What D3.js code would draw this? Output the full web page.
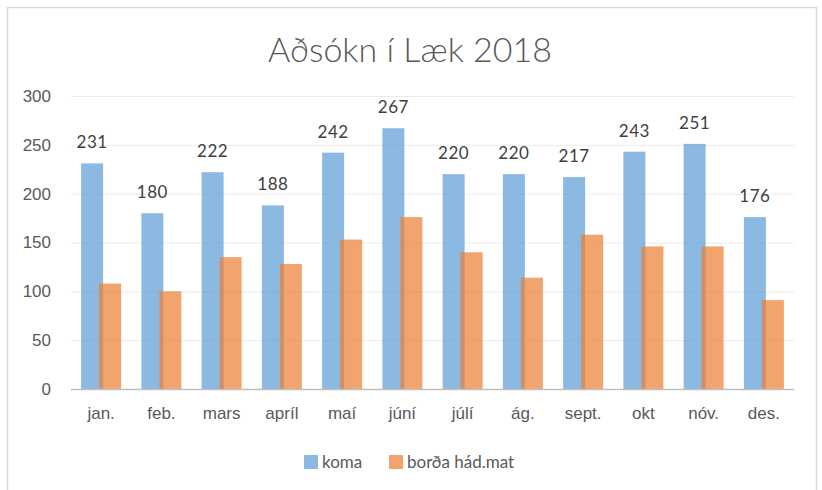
<!DOCTYPE html>
<html>
<head>
<meta charset="utf-8">
<script src="https://cdn.jsdelivr.net/npm/d3@7"></script>
<style>
  body { margin: 0; background: #fff; }
  svg { font-family: Lato, "Open Sans", sans-serif; }
</style>
</head>
<body>
<svg width="822" height="490"></svg>
<script>
const months = ["jan.", "feb.", "mars", "apríl", "maí", "júní", "júlí", "ág.", "sept.", "okt", "nóv.", "des."];
const koma = [231, 180, 222, 188, 242, 267, 220, 220, 217, 243, 251, 176];
const bordaHadmat = [108, 100, 135, 128, 153, 176, 140, 114, 158, 146, 146, 91];
const seriesNames = ["koma", "borða hád.mat"];
const yTicks = [0, 50, 100, 150, 200, 250, 300];

var svg = d3.select("svg");

// outer frame (bottom edge is cut off by the picture)
svg.append("rect")
    .attr("x", 7.5).attr("y", 7.5)
    .attr("width", 809).attr("height", 500)
    .attr("fill", "#fff")
    .attr("stroke", "#d9d9d9")
    .attr("stroke-width", 1.5);

var margin = {left: 71, right: 28, top: 96, bottom: 101};
var width = 822 - margin.left - margin.right,
    height = 490 - margin.top - margin.bottom;

var g = svg.append("g").attr("transform", "translate(" + margin.left + "," + margin.top + ")");

var x = d3.scaleBand().domain(months).range([0, width]);
var y = d3.scaleLinear().domain([0, 300]).range([height, 0]);

// gridlines
g.selectAll(".grid")
    .data(yTicks.slice(1))
    .enter().append("line")
    .attr("x1", 0).attr("x2", width)
    .attr("y1", d => y(d) + 0.5).attr("y2", d => y(d) + 0.5)
    .attr("stroke", "#ebebeb");

// y axis labels
var yAxis = g.append("g")
    .call(d3.axisLeft(y).tickValues(yTicks).tickSize(0).tickPadding(20));
yAxis.select(".domain").remove();
yAxis.selectAll("text")
    .attr("fill", "#595959")
    .style("font-size", "17px");

var barW = 22, off = 9;

g.selectAll(".koma")
    .data(koma)
    .enter().append("rect")
    .attr("x", (d, i) => x(months[i]) + x.bandwidth() / 2 - off - barW / 2)
    .attr("y", d => y(d))
    .attr("width", barW)
    .attr("height", d => height - y(d))
    .attr("fill", "#5b9bd5")
    .attr("fill-opacity", 0.7);

g.selectAll(".borda")
    .data(bordaHadmat)
    .enter().append("rect")
    .attr("x", (d, i) => x(months[i]) + x.bandwidth() / 2 + off - barW / 2)
    .attr("y", d => y(d))
    .attr("width", barW)
    .attr("height", d => height - y(d))
    .attr("fill", "#ed7d31")
    .attr("fill-opacity", 0.7);

// data labels on koma
g.selectAll(".lbl")
    .data(koma)
    .enter().append("text")
    .attr("x", (d, i) => x(months[i]) + x.bandwidth() / 2 - off)
    .attr("y", d => y(d) - 15)
    .attr("text-anchor", "middle")
    .attr("fill", "#404040")
    .style("font-size", "17px")
    .style("letter-spacing", "0.5px")
    .text(d => d);

// baseline
g.append("line")
    .attr("x1", 0).attr("x2", width)
    .attr("y1", height + 0.5).attr("y2", height + 0.5)
    .attr("stroke", "#bfbfbf")
    .attr("stroke-width", 1.5);

// x axis labels
var xAxis = g.append("g")
    .attr("transform", "translate(0," + height + ")")
    .call(d3.axisBottom(x).tickSize(0).tickPadding(18));
xAxis.select(".domain").remove();
xAxis.selectAll("text")
    .attr("fill", "#595959")
    .style("font-size", "17px");

// title
svg.append("text")
    .attr("x", 410).attr("y", 62)
    .attr("text-anchor", "middle")
    .attr("fill", "#595959")
    .style("font-size", "34px")
    .style("font-weight", 300)
    .text("Aðsókn í Læk 2018");

// legend
var legend = svg.append("g");
var legX = [304, 389];
var legColors = ["#5b9bd5", "#ed7d31"];
seriesNames.forEach(function(name, i) {
  legend.append("rect")
      .attr("x", legX[i]).attr("y", 455)
      .attr("width", 14).attr("height", 14)
      .attr("fill", legColors[i])
      .attr("fill-opacity", 0.7);
  legend.append("text")
      .attr("x", legX[i] + 18).attr("y", 468)
      .attr("fill", "#595959")
      .style("font-size", "17px")
      .text(name);
});
</script>
</body>
</html>
